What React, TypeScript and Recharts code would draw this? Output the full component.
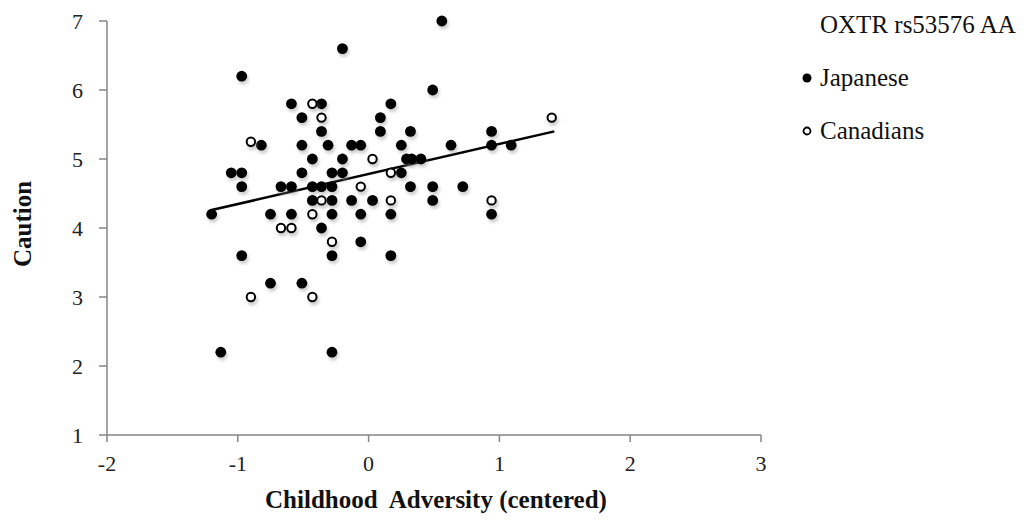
import { ScatterChart, Scatter, XAxis, YAxis } from 'recharts'

const xTicks = [-2, -1, 0, 1, 2, 3]
const yTicks = [1, 2, 3, 4, 5, 6, 7]

const japanese = [
  { x: -0.97, y: 6.2 }, { x: -0.59, y: 5.8 }, { x: -0.36, y: 5.8 }, { x: -0.51, y: 5.6 },
  { x: -0.36, y: 5.4 }, { x: 0.09, y: 5.6 }, { x: 0.09, y: 5.4 }, { x: -0.82, y: 5.2 },
  { x: -0.51, y: 5.2 }, { x: -0.31, y: 5.2 }, { x: -0.13, y: 5.2 }, { x: -0.06, y: 5.2 },
  { x: -0.43, y: 5.0 }, { x: -0.2, y: 5.0 }, { x: -1.05, y: 4.8 }, { x: -0.97, y: 4.8 },
  { x: -0.51, y: 4.8 }, { x: -0.28, y: 4.8 }, { x: -0.2, y: 4.8 }, { x: -0.97, y: 4.6 },
  { x: -0.67, y: 4.6 }, { x: -0.59, y: 4.6 }, { x: -0.43, y: 4.6 }, { x: -0.36, y: 4.6 },
  { x: -0.28, y: 4.6 }, { x: -0.43, y: 4.4 }, { x: -0.28, y: 4.4 }, { x: -0.13, y: 4.4 },
  { x: 0.03, y: 4.4 }, { x: -1.2, y: 4.2 }, { x: -0.75, y: 4.2 }, { x: -0.59, y: 4.2 },
  { x: -0.28, y: 4.2 }, { x: -0.06, y: 4.2 }, { x: -0.36, y: 4.0 }, { x: -0.06, y: 3.8 },
  { x: -0.97, y: 3.6 }, { x: -0.28, y: 3.6 }, { x: 0.17, y: 3.6 }, { x: -0.75, y: 3.2 },
  { x: -0.51, y: 3.2 }, { x: -1.13, y: 2.2 }, { x: -0.28, y: 2.2 }, { x: 0.56, y: 7.0 },
  { x: -0.2, y: 6.6 }, { x: 0.49, y: 6.0 }, { x: 0.17, y: 5.8 }, { x: 0.32, y: 5.4 },
  { x: 0.94, y: 5.4 }, { x: 0.25, y: 5.2 }, { x: 0.63, y: 5.2 }, { x: 0.94, y: 5.2 },
  { x: 1.09, y: 5.2 }, { x: 0.29, y: 5.0 }, { x: 0.33, y: 5.0 }, { x: 0.4, y: 5.0 },
  { x: 0.25, y: 4.8 }, { x: 0.32, y: 4.6 }, { x: 0.49, y: 4.6 }, { x: 0.72, y: 4.6 },
  { x: 0.49, y: 4.4 }, { x: 0.17, y: 4.2 }, { x: 0.94, y: 4.2 },
]

const canadians = [
  { x: -0.43, y: 5.8 }, { x: -0.36, y: 5.6 }, { x: -0.9, y: 5.25 }, { x: 0.03, y: 5.0 },
  { x: -0.06, y: 4.6 }, { x: -0.36, y: 4.4 }, { x: -0.43, y: 4.2 }, { x: -0.67, y: 4.0 },
  { x: -0.59, y: 4.0 }, { x: -0.28, y: 3.8 }, { x: -0.9, y: 3.0 }, { x: -0.43, y: 3.0 },
  { x: 1.4, y: 5.6 }, { x: 0.17, y: 4.8 }, { x: 0.17, y: 4.4 }, { x: 0.94, y: 4.4 },
]

// fitted line, end points
const trend = [{ x: -1.2, y: 4.26 }, { x: 1.42, y: 5.4 }]

const legendTitle = 'OXTR rs53576 AA'
const serif = 'Liberation Serif'

const Shadow = ({ cx, cy }: any) => (
  <circle cx={cx + 1.5} cy={cy + 3} r={5.5} fill="#888" opacity={0.4} style={{ filter: 'blur(1.5px)' }} />
)

const FilledDot = (props: any) => (
  <g>
    <Shadow {...props} />
    <circle cx={props.cx} cy={props.cy} r={5.4} fill="#000" />
  </g>
)

const OpenDot = (props: any) => (
  <g>
    <Shadow {...props} />
    <circle cx={props.cx} cy={props.cy} r={4.2} fill="#fff" stroke="#000" strokeWidth={2} />
  </g>
)

const NoDot = () => <g />

const LegendBox = () => (
  <div style={{ position: 'absolute', left: 794, top: -10, fontFamily: serif, fontSize: 25, color: '#111', lineHeight: '53px' }}>
    <div style={{ paddingLeft: 18 }}>{legendTitle}</div>
    <div style={{ display: 'flex', alignItems: 'center' }}>
      <svg width={18} height={14}><circle cx={5} cy={7} r={4.5} fill="#000" /></svg>
      <span>Japanese</span>
    </div>
    <div style={{ display: 'flex', alignItems: 'center' }}>
      <svg width={18} height={14}><circle cx={5} cy={7} r={3.5} fill="#fff" stroke="#000" strokeWidth={1.8} /></svg>
      <span>Canadians</span>
    </div>
  </div>
)

export default function App() {
  return (
    <div style={{ position: 'relative', width: 1011, height: 509 }}>
      <ScatterChart width={1011} height={509} margin={{ top: 13, right: 258, left: 0, bottom: 0 }}>
        <XAxis
          type="number" dataKey="x" domain={[-2, 3]} ticks={xTicks} height={82}
          stroke="#868686" strokeWidth={1.5} tickSize={7} tickMargin={13}
          tick={{ fontSize: 22, fontFamily: serif, fill: '#222' }}
          label={{
            content: ({ viewBox }: any) => (
              <text x={viewBox.x + viewBox.width / 2 + 2} y={viewBox.y + 73} textAnchor="middle"
                fontFamily={serif} fontWeight="bold" fontSize={25} fill="#111" style={{ whiteSpace: 'pre' }}>
                Childhood  Adversity (centered)
              </text>
            ),
          }}
        />
        <YAxis
          type="number" dataKey="y" domain={[1, 7]} ticks={yTicks} width={99}
          stroke="#868686" strokeWidth={1.5} tickSize={8} tickMargin={16}
          tick={{ fontSize: 22, fontFamily: serif, fill: '#222' }}
          label={{
            content: ({ viewBox }: any) => {
              const cx = 23, cy = viewBox.y + viewBox.height / 2 - 4
              return (
                <text x={cx} y={cy} transform={`rotate(-90 ${cx} ${cy})`} textAnchor="middle"
                  fontFamily={serif} fontWeight="bold" fontSize={25} fill="#111">
                  Caution
                </text>
              )
            },
          }}
        />
        <Scatter name="trend" data={trend} line={{ stroke: '#000', strokeWidth: 2.5 }} shape={NoDot}
          legendType="none" isAnimationActive={false} />
        <Scatter name="Japanese" data={japanese} shape={FilledDot} isAnimationActive={false} />
        <Scatter name="Canadians" data={canadians} shape={OpenDot} isAnimationActive={false} />
      </ScatterChart>
      <LegendBox />
    </div>
  )
}
